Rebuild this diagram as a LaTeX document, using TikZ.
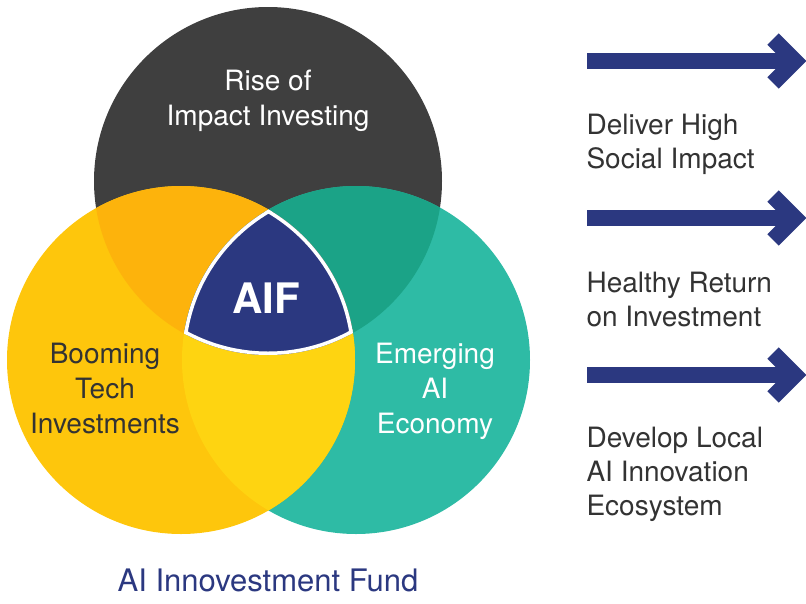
\documentclass[tikz,border=0pt]{standalone}
\usepackage{fontspec}
\setmainfont{TeX Gyre Heros}
\usetikzlibrary{positioning}

\definecolor{riseGrey}{HTML}{3F3F3F}
\definecolor{techYellow}{HTML}{FEC60C}
\definecolor{aiTeal}{HTML}{2EBBA5}
\definecolor{riseTech}{HTML}{FDB30C}
\definecolor{riseAi}{HTML}{1BA387}
\definecolor{techAi}{HTML}{FED411}
\definecolor{fundNavy}{HTML}{2B3880}
\definecolor{textGrey}{HTML}{333333}

\begin{document}
\begin{tikzpicture}[x=1pt, y=-1pt,
    circletext/.style={align=center, font=\fontsize{28}{35}\selectfont},
    goaltext/.style={align=left, anchor=west, text=textGrey, font=\fontsize{28}{34}\selectfont},
    arrowshaft/.style={fundNavy, line width=16pt},
    arrowbarb/.style={fundNavy, line width=16pt, miter limit=4}]
      \useasboundingbox (0,0) rectangle (806,603);
      \clip (0,0) rectangle (806,603);
      % circle centres
      \coordinate (rise) at (268,181);
      \coordinate (tech) at (181,360);
      \coordinate (econ) at (356,360);
      % circles
      \fill [riseGrey]   (rise) circle (174pt);
      \fill [aiTeal]     (econ) circle (174pt);
      \fill [techYellow] (tech) circle (174pt);
      % overlaps
      \begin{scope}
        \clip (rise) circle (174pt);
        \fill [riseTech] (tech) circle (174pt);
        \fill [riseAi]   (econ) circle (174pt);
      \end{scope}
      \begin{scope}
        \clip (tech) circle (174pt);
        \fill [techAi] (econ) circle (174pt);
      \end{scope}
      % centre piece
      \begin{scope}
        \clip (rise) circle (174pt);
        \clip (tech) circle (174pt);
        \clip (econ) circle (174pt);
        \fill [fundNavy] (0,0) rectangle (806,603);
        \foreach \c in {rise, tech, econ}
        \draw [white, line width=7pt] (\c) circle (174pt);
      \end{scope}
      % labels
      \node [circletext, text=white] (riseLabel) at (268,101) {Rise of\\Impact Investing};
      \node [circletext, text=textGrey] (techLabel) at (105,388) {Booming\\Tech\\Investments};
      \node [circletext, text=white] (econLabel) at (435,391) {Emerging\\AI\\Economy};
      \node [text=white, font=\fontsize{42}{42}\selectfont\bfseries] (aif) at (266,298) {AIF};
      \node [text=fundNavy, font=\fontsize{31}{34}\selectfont] (fund) at (268,580) {AI Innovestment Fund};
      % arrows
      \foreach \i/\y in {1/61, 2/218, 3/375} {
        \coordinate (start\i) at (587,\y);
        \coordinate (tip\i) at (795,\y);
        \draw [arrowshaft] (start\i) -- (tip\i);
        \draw [arrowbarb] (tip\i) ++(-22,-22) -- (tip\i) -- ++(-22,22);
      }
      % goals
      \node [goaltext] (impact) at (583,144) {Deliver High\\Social Impact};
      \node [goaltext] (return) at (583,299) {Healthy Return\\on Investment};
      \node [goaltext] (local) at (583,474) {Develop Local\\AI Innovation\\Ecosystem};
    \end{tikzpicture}
\end{document}
